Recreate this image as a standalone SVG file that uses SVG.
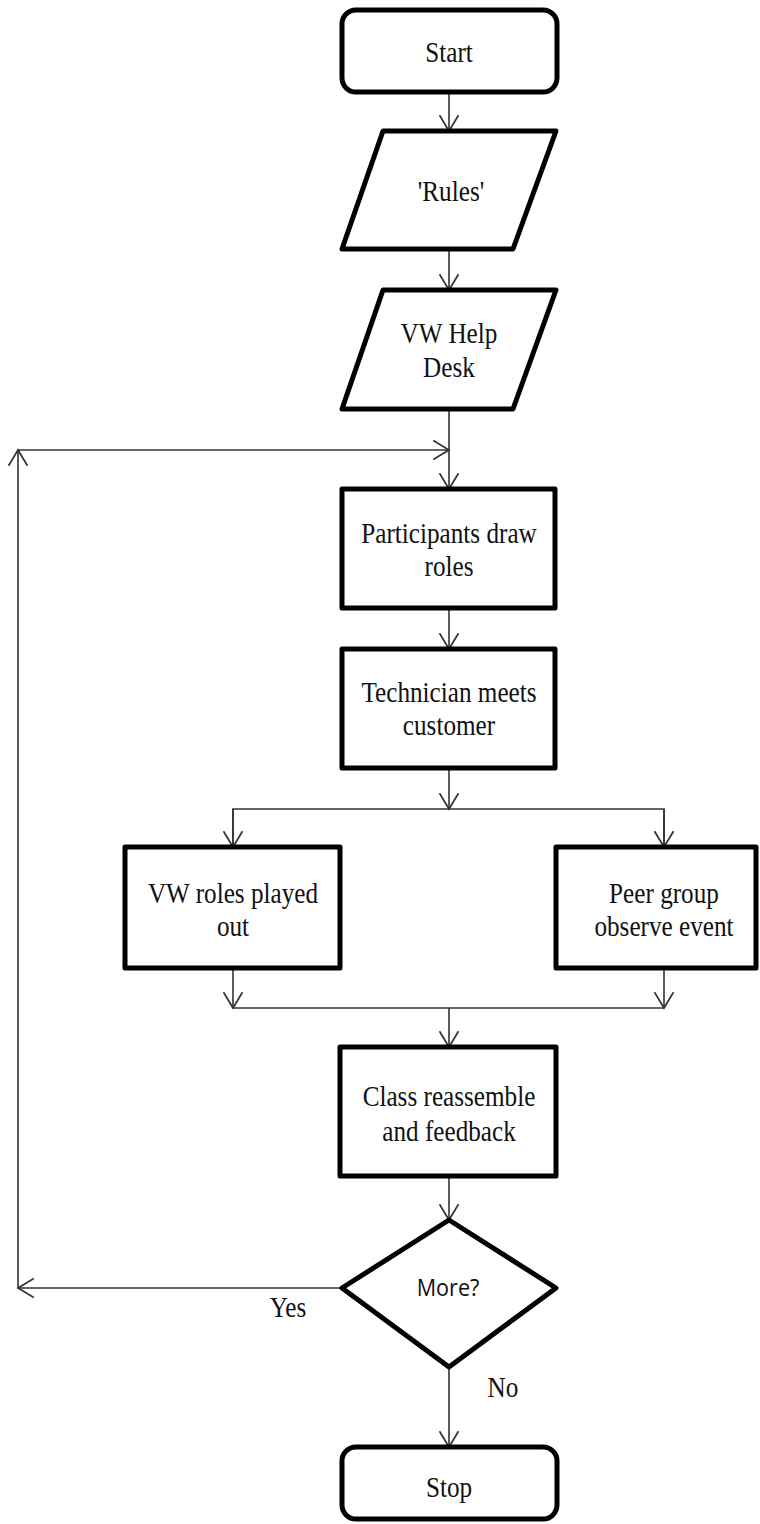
<svg xmlns="http://www.w3.org/2000/svg" width="760" height="1524" viewBox="0 0 760 1524">
  <style>
    .node { fill: #fff; stroke: #000; stroke-width: 5; stroke-linejoin: round; }
    .edge { fill: none; stroke: #333; stroke-width: 1.6; }
    .t { font-family: "Liberation Serif", "Times New Roman", serif; font-size: 30px; fill: #111; text-anchor: middle; }
    .s { font-family: "Open Sans", "DejaVu Sans", sans-serif; font-size: 24px; fill: #111; text-anchor: middle; }
  </style>
  <defs>
    <marker id="arrow" markerUnits="userSpaceOnUse" markerWidth="20" markerHeight="24" viewBox="-17 -11 19 22" refX="0" refY="0" orient="auto">
      <path d="M-15,-9 L0,0 L-15,9" fill="none" stroke="#333" stroke-width="1.6"/>
    </marker>
  </defs>

  <!-- connectors -->
  <g id="connectors" class="edge">
    <line x1="449" y1="92" x2="449" y2="131" marker-end="url(#arrow)"/>
    <line x1="449" y1="249" x2="449" y2="290" marker-end="url(#arrow)"/>
    <line x1="449" y1="409" x2="449" y2="489" marker-end="url(#arrow)"/>
    <line x1="449" y1="608" x2="449" y2="649" marker-end="url(#arrow)"/>
    <line x1="449" y1="768" x2="449" y2="809" marker-end="url(#arrow)"/>
    <polyline points="233,847 233,809 664,809 664,847"/>
    <line x1="233" y1="809" x2="233" y2="847" marker-end="url(#arrow)"/>
    <line x1="664" y1="809" x2="664" y2="847" marker-end="url(#arrow)"/>
    <line x1="233" y1="968" x2="233" y2="1008" marker-end="url(#arrow)"/>
    <line x1="664" y1="968" x2="664" y2="1008" marker-end="url(#arrow)"/>
    <line x1="233" y1="1008" x2="664" y2="1008"/>
    <line x1="449" y1="1008" x2="449" y2="1047" marker-end="url(#arrow)"/>
    <line x1="449" y1="1176" x2="449" y2="1220" marker-end="url(#arrow)"/>
    <line x1="449" y1="1367" x2="449" y2="1447" marker-end="url(#arrow)"/>
    <!-- "Yes" loop back to the top of the round -->
    <line x1="342" y1="1288" x2="18" y2="1288" marker-end="url(#arrow)"/>
    <line x1="18" y1="1288" x2="18" y2="450" marker-end="url(#arrow)"/>
    <line x1="18" y1="450" x2="449" y2="450" marker-end="url(#arrow)"/>
  </g>

  <g id="start">
    <rect class="node" x="342" y="10" width="215" height="82" rx="14"/>
    <text class="t" transform="translate(449 62) scale(0.84 1)">Start</text>
  </g>

  <g id="rules">
    <polygon class="node" points="383,131 556,131 513,249 342,249"/>
    <text class="t" transform="translate(451 201) scale(0.84 1)">'Rules'</text>
  </g>

  <g id="help-desk">
    <polygon class="node" points="383,290 556,290 513,409 342,409"/>
    <text class="t" transform="translate(449 343) scale(0.84 1)"><tspan x="0">VW Help</tspan><tspan x="0" dy="34">Desk</tspan></text>
  </g>

  <g id="draw-roles">
    <rect class="node" x="342" y="489" width="213" height="119"/>
    <text class="t" transform="translate(449 543) scale(0.84 1)"><tspan x="0">Participants draw</tspan><tspan x="0" dy="33">roles</tspan></text>
  </g>

  <g id="meets-customer">
    <rect class="node" x="342" y="649" width="213" height="119"/>
    <text class="t" transform="translate(449 702) scale(0.84 1)"><tspan x="0">Technician meets</tspan><tspan x="0" dy="33">customer</tspan></text>
  </g>

  <g id="roles-played">
    <rect class="node" x="125" y="847" width="215" height="121"/>
    <text class="t" transform="translate(233 903) scale(0.84 1)"><tspan x="0">VW roles played</tspan><tspan x="0" dy="33">out</tspan></text>
  </g>

  <g id="peer-observe">
    <rect class="node" x="556" y="847" width="200" height="121"/>
    <text class="t" transform="translate(664 903) scale(0.84 1)"><tspan x="0">Peer group</tspan><tspan x="0" dy="33">observe event</tspan></text>
  </g>

  <g id="reassemble">
    <rect class="node" x="340" y="1047" width="216" height="129"/>
    <text class="t" transform="translate(449 1106) scale(0.84 1)"><tspan x="0">Class reassemble</tspan><tspan x="0" dy="35">and feedback</tspan></text>
  </g>

  <g id="more">
    <polygon class="node" points="449,1220 556,1288 449,1367 342,1288"/>
    <text class="s" transform="translate(448 1296) scale(0.9 1)">More?</text>
  </g>

  <g id="labels">
    <text class="t" transform="translate(288 1317) scale(0.84 1)">Yes</text>
    <text class="t" transform="translate(503 1397) scale(0.84 1)">No</text>
  </g>

  <g id="stop">
    <rect class="node" x="342" y="1447" width="215" height="72" rx="14"/>
    <text class="t" transform="translate(449 1497) scale(0.84 1)">Stop</text>
  </g>
</svg>
